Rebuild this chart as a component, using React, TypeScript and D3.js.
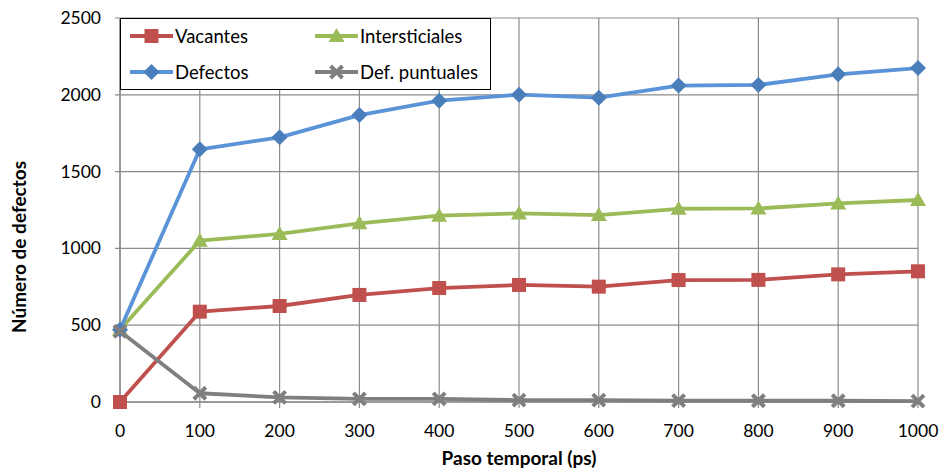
import React from "react";
import * as d3 from "d3";

const steps = [0, 100, 200, 300, 400, 500, 600, 700, 800, 900, 1000];
const vacantes = [0, 588, 625, 697, 742, 762, 751, 794, 795, 831, 851];
const intersticiales = [470, 1050, 1094, 1163, 1213, 1228, 1217, 1258, 1260, 1293, 1315];
const defectos = [470, 1645, 1723, 1868, 1962, 2001, 1981, 2060, 2064, 2133, 2174];
const puntuales = [460, 57, 30, 20, 20, 12, 12, 9, 8, 8, 6];
const yTicks = [0, 500, 1000, 1500, 2000, 2500];

type Marker = "square" | "triangle" | "diamond" | "cross";

const series: { name: string; values: number[]; line: string; fill: string; marker: Marker }[] = [
  { name: "Vacantes", values: vacantes, line: "#C0504D", fill: "#C0504D", marker: "square" },
  { name: "Intersticiales", values: intersticiales, line: "#9BBB59", fill: "#9BBB59", marker: "triangle" },
  { name: "Defectos", values: defectos, line: "#5B93D8", fill: "#4A7EBB", marker: "diamond" },
  { name: "Def. puntuales", values: puntuales, line: "#7F7F7F", fill: "#7F7F7F", marker: "cross" },
];

const W = 940;
const H = 470;
const left = 120;
const right = 918;
const top = 18;
const bottom = 402;
const font = "Lato, 'Open Sans', sans-serif";

function MarkerShape({ kind, x, y, color }: { kind: Marker; x: number; y: number; color: string }) {
  if (kind === "square") {
    return <rect x={x - 7} y={y - 7} width={14} height={14} fill={color} />;
  }
  if (kind === "triangle") {
    return <path d={`M${x},${y - 8}L${x + 8},${y + 6}L${x - 8},${y + 6}Z`} fill={color} />;
  }
  if (kind === "diamond") {
    return <path d={`M${x},${y - 8}L${x + 8},${y}L${x},${y + 8}L${x - 8},${y}Z`} fill={color} />;
  }
  return (
    <path
      d={`M${x - 6},${y - 6}L${x + 6},${y + 6}M${x - 6},${y + 6}L${x + 6},${y - 6}`}
      stroke={color}
      strokeWidth={4}
      fill="none"
    />
  );
}

export default function App() {
  const x = d3.scaleLinear().domain([0, 1000]).range([left, right]);
  const y = d3.scaleLinear().domain([0, 2500]).range([bottom, top]);
  const grid = "#8C8C8C";

  const legendItems = [
    { s: series[0], lx: 130, ly: 36 },
    { s: series[1], lx: 315, ly: 36 },
    { s: series[2], lx: 130, ly: 72 },
    { s: series[3], lx: 315, ly: 72 },
  ];

  return (
    <svg width={W} height={H} style={{ position: "absolute", left: 0, top: 0, background: "#fff" }}>
      {/* grid */}
      {yTicks.map((t) => (
        <g key={`y${t}`}>
          <line x1={left - 5} x2={right} y1={y(t)} y2={y(t)} stroke={grid} strokeWidth={1.2} />
          <text x={101} y={y(t) + 6} textAnchor="end" fontFamily={font} fontSize={17.5} fill="#000">
            {t}
          </text>
        </g>
      ))}
      {steps.map((t) => (
        <g key={`x${t}`}>
          <line x1={x(t)} x2={x(t)} y1={top} y2={bottom + 6} stroke={grid} strokeWidth={1.2} />
          <text x={x(t)} y={437} textAnchor="middle" fontFamily={font} fontSize={17.5} fill="#000">
            {t}
          </text>
        </g>
      ))}
      <line x1={left} x2={left} y1={top} y2={bottom} stroke={grid} strokeWidth={1.5} />
      <line x1={left} x2={right} y1={bottom} y2={bottom} stroke={grid} strokeWidth={1.5} />

      {/* series */}
      {series.map((s) => {
        const path = d3
          .line<number>()
          .x((_, i) => x(steps[i]))
          .y((v) => y(v))(s.values);
        return (
          <g key={s.name}>
            <path d={path ?? ""} fill="none" stroke={s.line} strokeWidth={3.8} strokeLinejoin="round" />
            {s.values.map((v, i) => (
              <MarkerShape key={i} kind={s.marker} x={x(steps[i])} y={y(v)} color={s.fill} />
            ))}
          </g>
        );
      })}

      {/* legend */}
      <rect x={120.5} y={18.5} width={370} height={71} fill="#fff" stroke="#000" strokeWidth={1} />
      {legendItems.map(({ s, lx, ly }) => (
        <g key={`lg${s.name}`}>
          <line x1={lx} x2={lx + 43} y1={ly} y2={ly} stroke={s.line} strokeWidth={3.8} />
          <MarkerShape kind={s.marker} x={lx + 21.5} y={ly} color={s.fill} />
          <text x={lx + 45} y={ly + 6.5} fontFamily={font} fontSize={18.5} fill="#000">
            {s.name}
          </text>
        </g>
      ))}

      {/* axis titles */}
      <text x={519} y={465} textAnchor="middle" fontFamily={font} fontSize={19} fontWeight="bold" fill="#000">
        Paso temporal (ps)
      </text>
      <text
        transform={`translate(26,247) rotate(-90)`}
        textAnchor="middle"
        fontFamily={font}
        fontSize={19}
        fontWeight="bold"
        fill="#000"
      >
        Número de defectos
      </text>
    </svg>
  );
}
